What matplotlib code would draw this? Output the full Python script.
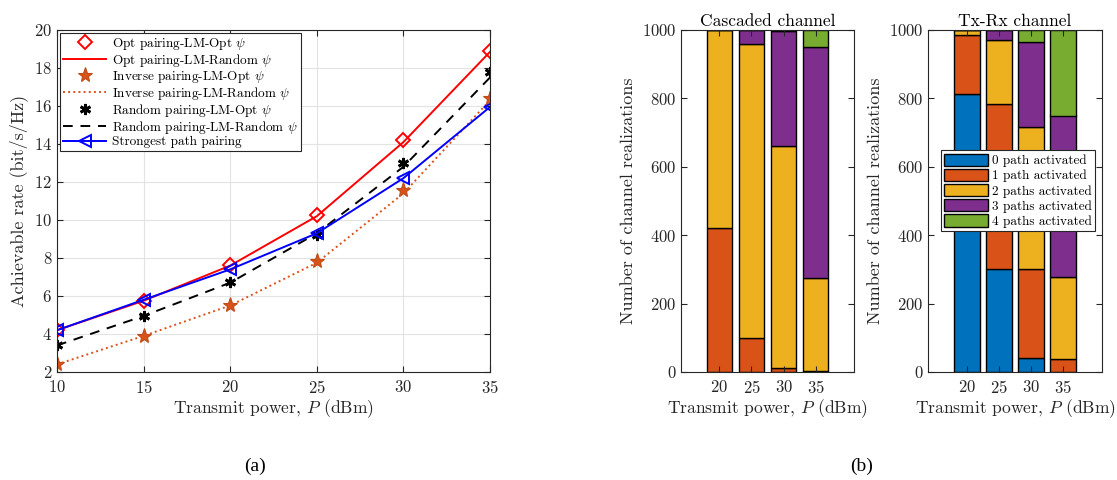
import numpy as np
import matplotlib
matplotlib.use("Agg")
import matplotlib.pyplot as plt

plt.rcParams['font.family'] = 'cmr10'
plt.rcParams['mathtext.fontset'] = 'cm'
plt.rcParams['axes.formatter.use_mathtext'] = True
plt.rcParams['axes.unicode_minus'] = False

# ---- left panel data: achievable rate vs transmit power
power = [10, 15, 20, 25, 30, 35]
opt_opt = [4.2, 5.75, 7.65, 10.25, 14.2, 18.9]
opt_rand = [4.2, 5.75, 7.6, 10.2, 14.1, 18.85]
inv_opt = [2.4, 3.9, 5.55, 7.85, 11.6, 16.4]
inv_rand = [2.4, 3.9, 5.5, 7.75, 11.4, 16.3]
rnd_opt = [3.4, 4.95, 6.75, 9.2, 13.0, 17.8]
rnd_rand = [3.4, 4.95, 6.7, 9.3, 12.8, 17.5]
strongest = [4.2, 5.8, 7.4, 9.3, 12.2, 15.95]

# ---- right panels data: number of activated paths (0..4) per power
bar_power = [20, 25, 30, 35]
path_labels = ['0 path activated', '1 path activated', '2 paths activated',
               '3 paths activated', '4 paths activated']
cascaded = [
    [0, 0, 0, 0],
    [422, 100, 12, 2],
    [578, 860, 648, 272],
    [0, 40, 338, 676],
    [0, 0, 2, 50],
]
txrx = [
    [813, 300, 42, 0],
    [172, 483, 258, 38],
    [15, 187, 416, 240],
    [0, 30, 248, 472],
    [0, 0, 36, 250],
]
bar_colors = ['#0072BD', '#D95319', '#EDB120', '#7E2F8E', '#77AC30']

txt = '#262626'
fig = plt.figure(figsize=(11.17, 4.80), dpi=100)

# ---------------- (a)
ax = fig.add_axes([57/1117, 1-372/480, 433/1117, 342/480])
orange = '#D95319'
ax.plot(power, opt_opt, ls='none', marker='D', ms=7, mfc='none', mec='red', mew=1.4,
        label=r'Opt pairing-LM-Opt $\psi$')
ax.plot(power, opt_rand, color='red', lw=1.4, label=r'Opt pairing-LM-Random $\psi$')
ax.plot(power, inv_opt, ls='none', marker='*', ms=11, mfc=orange, mec='#C04A18', mew=0.8,
        label=r'Inverse pairing-LM-Opt $\psi$')
ax.plot(power, inv_rand, color=orange, ls=':', lw=1.4, label=r'Inverse pairing-LM-Random $\psi$')
ax.plot(power, rnd_opt, ls='none', marker=(6, 2, 0), ms=8, mec='black', mew=2.0,
        label=r'Random pairing-LM-Opt $\psi$')
ax.plot(power, rnd_rand, color='black', ls=(0, (5, 4)), lw=1.4,
        label=r'Random pairing-LM-Random $\psi$')
ax.plot(power, strongest, color='blue', lw=1.4, marker='<', ms=8, mfc='none', mew=1.4,
        label='Strongest path pairing')
ax.set_xlim(10, 35)
ax.set_ylim(2, 20)
ax.set_xticks(power)
ax.set_yticks(range(2, 21, 2))
ax.grid(True, color='#e3e3e3', lw=0.8)
ax.set_axisbelow(True)
ax.tick_params(direction='in', top=True, right=True, labelsize=12, colors=txt, length=4)
ax.tick_params(axis='x', pad=5)
ax.set_xlabel(r'Transmit power, $P$ (dBm)', fontsize=12.6, color=txt, labelpad=1)
ax.set_ylabel('Achievable rate (bit/s/Hz)', fontsize=13, color=txt, labelpad=4)
for s in ax.spines.values():
    s.set_color(txt)
leg = ax.legend(loc='upper left', fontsize=9.5, frameon=True, fancybox=False,
                edgecolor=txt, framealpha=1, handlelength=3.3, borderaxespad=0.2,
                labelspacing=0.0, borderpad=0.25, handletextpad=0.4)
leg.get_frame().set_linewidth(0.8)

# ---------------- (b)
def stacked(axb, data, title):
    bottom = np.zeros(len(bar_power))
    for k, vals in enumerate(data):
        axb.bar(bar_power, vals, width=4, bottom=bottom, color=bar_colors[k],
                edgecolor='black', lw=1, label=path_labels[k])
        bottom += np.array(vals)
    axb.set_xlim(14, 41)
    axb.set_ylim(0, 1000)
    axb.set_xticks(bar_power)
    axb.set_yticks(range(0, 1001, 200))
    axb.tick_params(direction='in', top=True, right=True, labelsize=12, colors=txt, length=4)
    axb.tick_params(axis='x', pad=5)
    axb.set_xlabel(r'Transmit power, $P$ (dBm)', fontsize=12.6, color=txt, labelpad=1)
    axb.set_ylabel('Number of channel realizations', fontsize=13, color=txt, labelpad=4)
    axb.set_title(title, fontsize=12.5, color='black', pad=3)
    for s in axb.spines.values():
        s.set_color(txt)

ax1 = fig.add_axes([681/1117, 1-372/480, 173/1117, 342/480])
stacked(ax1, cascaded, 'Cascaded channel')
ax2 = fig.add_axes([928/1117, 1-372/480, 174/1117, 342/480])
stacked(ax2, txrx, 'Tx-Rx channel')
leg2 = ax2.legend(loc='center right', bbox_to_anchor=(0.96, 0.53), fontsize=9.5,
                  frameon=True, fancybox=False, edgecolor=txt, framealpha=1,
                  handlelength=3.3, handleheight=1.05, labelspacing=0.12, borderpad=0.25,
                  handletextpad=0.3, borderaxespad=0)
leg2.get_frame().set_linewidth(0.8)

fig.text(255/1117, 1-466/480, '(a)', fontsize=14, family='Liberation Serif',
         ha='center', va='center')
fig.text(862/1117, 1-466/480, '(b)', fontsize=14, family='Liberation Serif',
         ha='center', va='center')

fig.savefig('out.png', dpi=100)
